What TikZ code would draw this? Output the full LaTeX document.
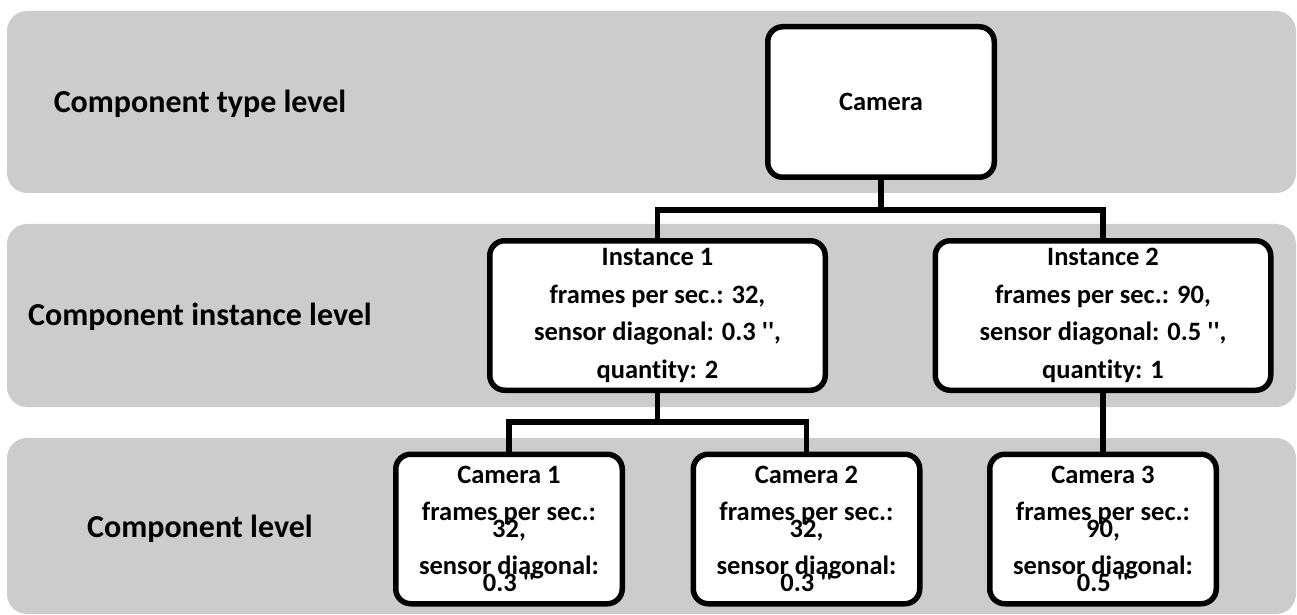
\documentclass[tikz,border=0pt]{standalone}
\usepackage{fontspec}
\setmainfont{Carlito}[Ligatures={TeX,NoCommon}]
\definecolor{bandgray}{RGB}{204,204,204}
\newcommand{\tightlines}{\lineskiplimit=-100pt\relax\lineskip=0pt\relax}
\newcommand{\inch}{\textquotesingle\textquotesingle}
\tikzset{
  band/.style={fill=bandgray, rounded corners=10pt},
  levellabel/.style={font=\fontsize{16}{19}\selectfont\bfseries, anchor=base, inner sep=0pt},
  boxbase/.style={draw=black, fill=white, line width=2.75pt, rounded corners=7.5pt,
    inner sep=0pt, align=center},
  typebox/.style={boxbase, minimum width=113.25pt, minimum height=75.25pt,
    font=\fontsize{13.25}{16}\selectfont\bfseries},
  instbox/.style={boxbase, minimum width=167.75pt, minimum height=74.75pt,
    font=\fontsize{13.25}{18.75}\selectfont\bfseries},
  compbox/.style={boxbase, minimum width=113.25pt, minimum height=74.75pt,
    font=\fontsize{13.25}{8.8}\selectfont\bfseries\tightlines},
  link/.style={draw=black, line width=2.75pt}
}
\begin{document}
\begin{tikzpicture}[x=0.5pt, y=-0.5pt]
\useasboundingbox (0,0) rectangle (1297,615);

% level bands
\fill[band] (7,11) rectangle (1296,193);
\fill[band] (7,224) rectangle (1296,407);
\fill[band] (7,438) rectangle (1296,614);

% level labels
\node[levellabel] (lbltype) at (200,112.5) {Component type level};
\node[levellabel] (lblinst) at (200,325.5) {Component instance level};
\node[levellabel] (lblcomp) at (200,537) {Component level};

% component type
\node[typebox] (cam) at (881,102) {Camera};

% component instances
\node[instbox] (inst1) at (657.5,315.5) {Instance 1\\frames per sec.: 32,\\sensor diagonal: 0.3 \inch,\\quantity: 2};
\node[instbox] (inst2) at (1103,315.5) {Instance 2\\frames per sec.: 90,\\sensor diagonal: 0.5 \inch,\\quantity: 1};

% components
\node[compbox] (c1) at (509,529) {Camera 1\\[9.5pt]frames per sec.:\\32,\\[9.5pt]sensor diagonal:\\0.3 \inch};
\node[compbox] (c2) at (806.5,529) {Camera 2\\[9.5pt]frames per sec.:\\32,\\[9.5pt]sensor diagonal:\\0.3 \inch};
\node[compbox] (c3) at (1103,529) {Camera 3\\[9.5pt]frames per sec.:\\90,\\[9.5pt]sensor diagonal:\\0.5 \inch};

% connectors
\coordinate (j1) at (881,210);
\coordinate (j2) at (657.5,422);
\draw[link] (cam.south) -- (j1);
\draw[link] (inst1.north) |- (j1) -| (inst2.north);
\draw[link] (inst1.south) -- (j2);
\draw[link] (c1.north) |- (j2) -| (c2.north);
\draw[link] (inst2.south) -- (c3.north);
\end{tikzpicture}
\end{document}
